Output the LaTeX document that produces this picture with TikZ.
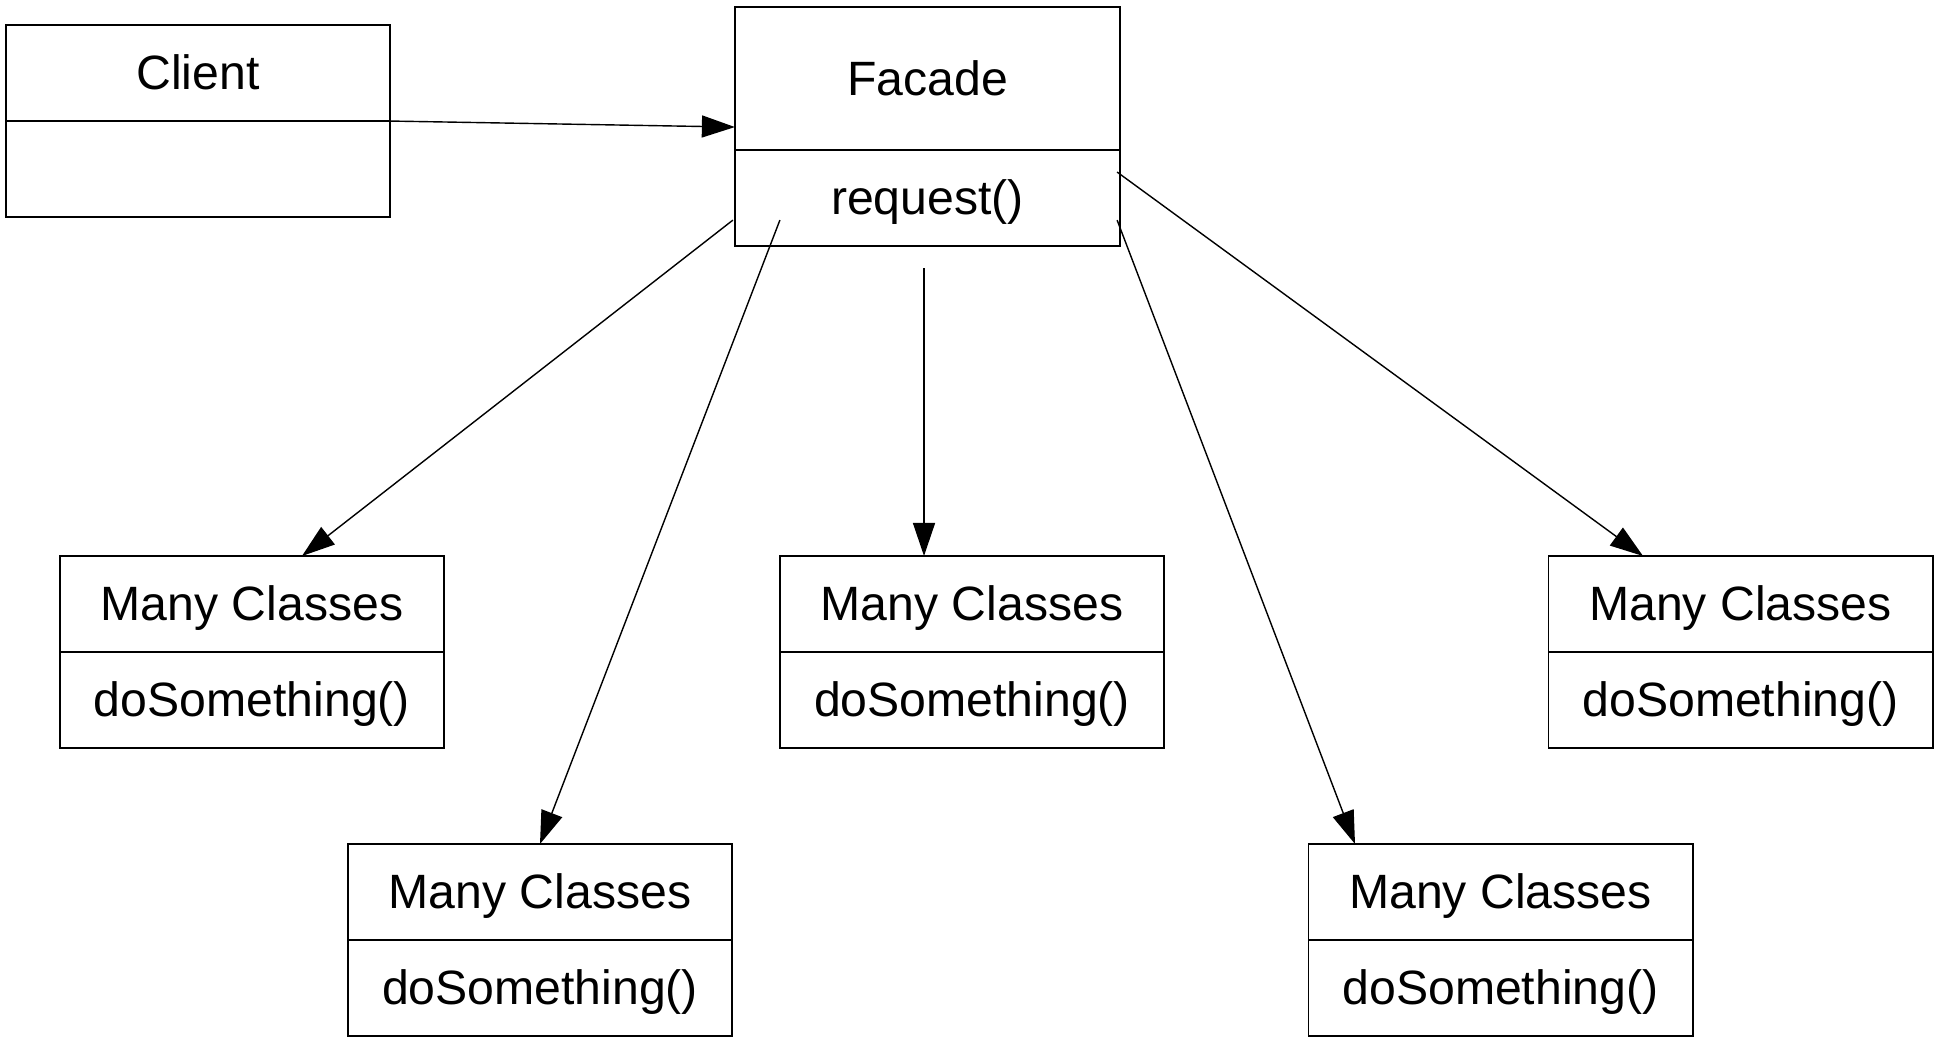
\documentclass[tikz,border=0pt]{standalone}
\usepackage{fontspec}
\setmainfont{Liberation Sans}
\usetikzlibrary{positioning, calc, arrows.meta}

\begin{document}
\begin{tikzpicture}[x=0.01cm, y=-0.01cm, >={Triangle[length=0.33cm, width=0.22cm]},
    font=\fontsize{13.7}{16}\selectfont,
    classbox/.style={draw, line width=0.5pt, minimum width=3.84cm, minimum height=0.96cm,
      inner sep=0pt, outer sep=0pt, text height=12.4pt, text depth=2.9pt},
    link/.style={->, line width=0.4pt}]
    \useasboundingbox (0, 0) rectangle (1939, 1038);

    % client and facade
    \node[classbox] (chead) at (198, 73) {Client};
    \node[classbox, below=0pt of chead] (cbody) {};
    \node[classbox, minimum width=3.85cm, minimum height=1.43cm] (fhead) at (927.5, 78.5) {Facade};
    \node[classbox, minimum width=3.85cm, below=0pt of fhead] (fbody) {request()};

    % the many classes
    \foreach \name/\px/\py in {m1/252/604, m2/540/892, m3/972/604, m4/1500.5/892, m5/1740.5/604} {
        \node[classbox] (\name) at (\px, \py) {Many Classes};
        \node[classbox, below=0pt of \name] (\name body) {doSomething()};
    }

    \draw[link] (chead.south east) -- ($(fhead.south west)+(0, -23)$);

    \draw[link] ($(fbody.south west)+(-2, -26)$) -- ($(m1.north)+(50, 0)$);
    \draw[link] ($(fbody.south west)+(45, -26)$) -- (m2.north);
    \draw[link] ($(fbody.south)+(-3.5, 22)$) -- ($(m3.north)+(-48, 0)$);
    \draw[link] ($(fbody.south east)+(-3, -26)$) -- ($(m4.north)+(-145.5, 0)$);
    \draw[link] ($(fbody.north east)+(-3, 22)$) -- ($(m5.north)+(-97.5, 0)$);
\end{tikzpicture}
\end{document}
